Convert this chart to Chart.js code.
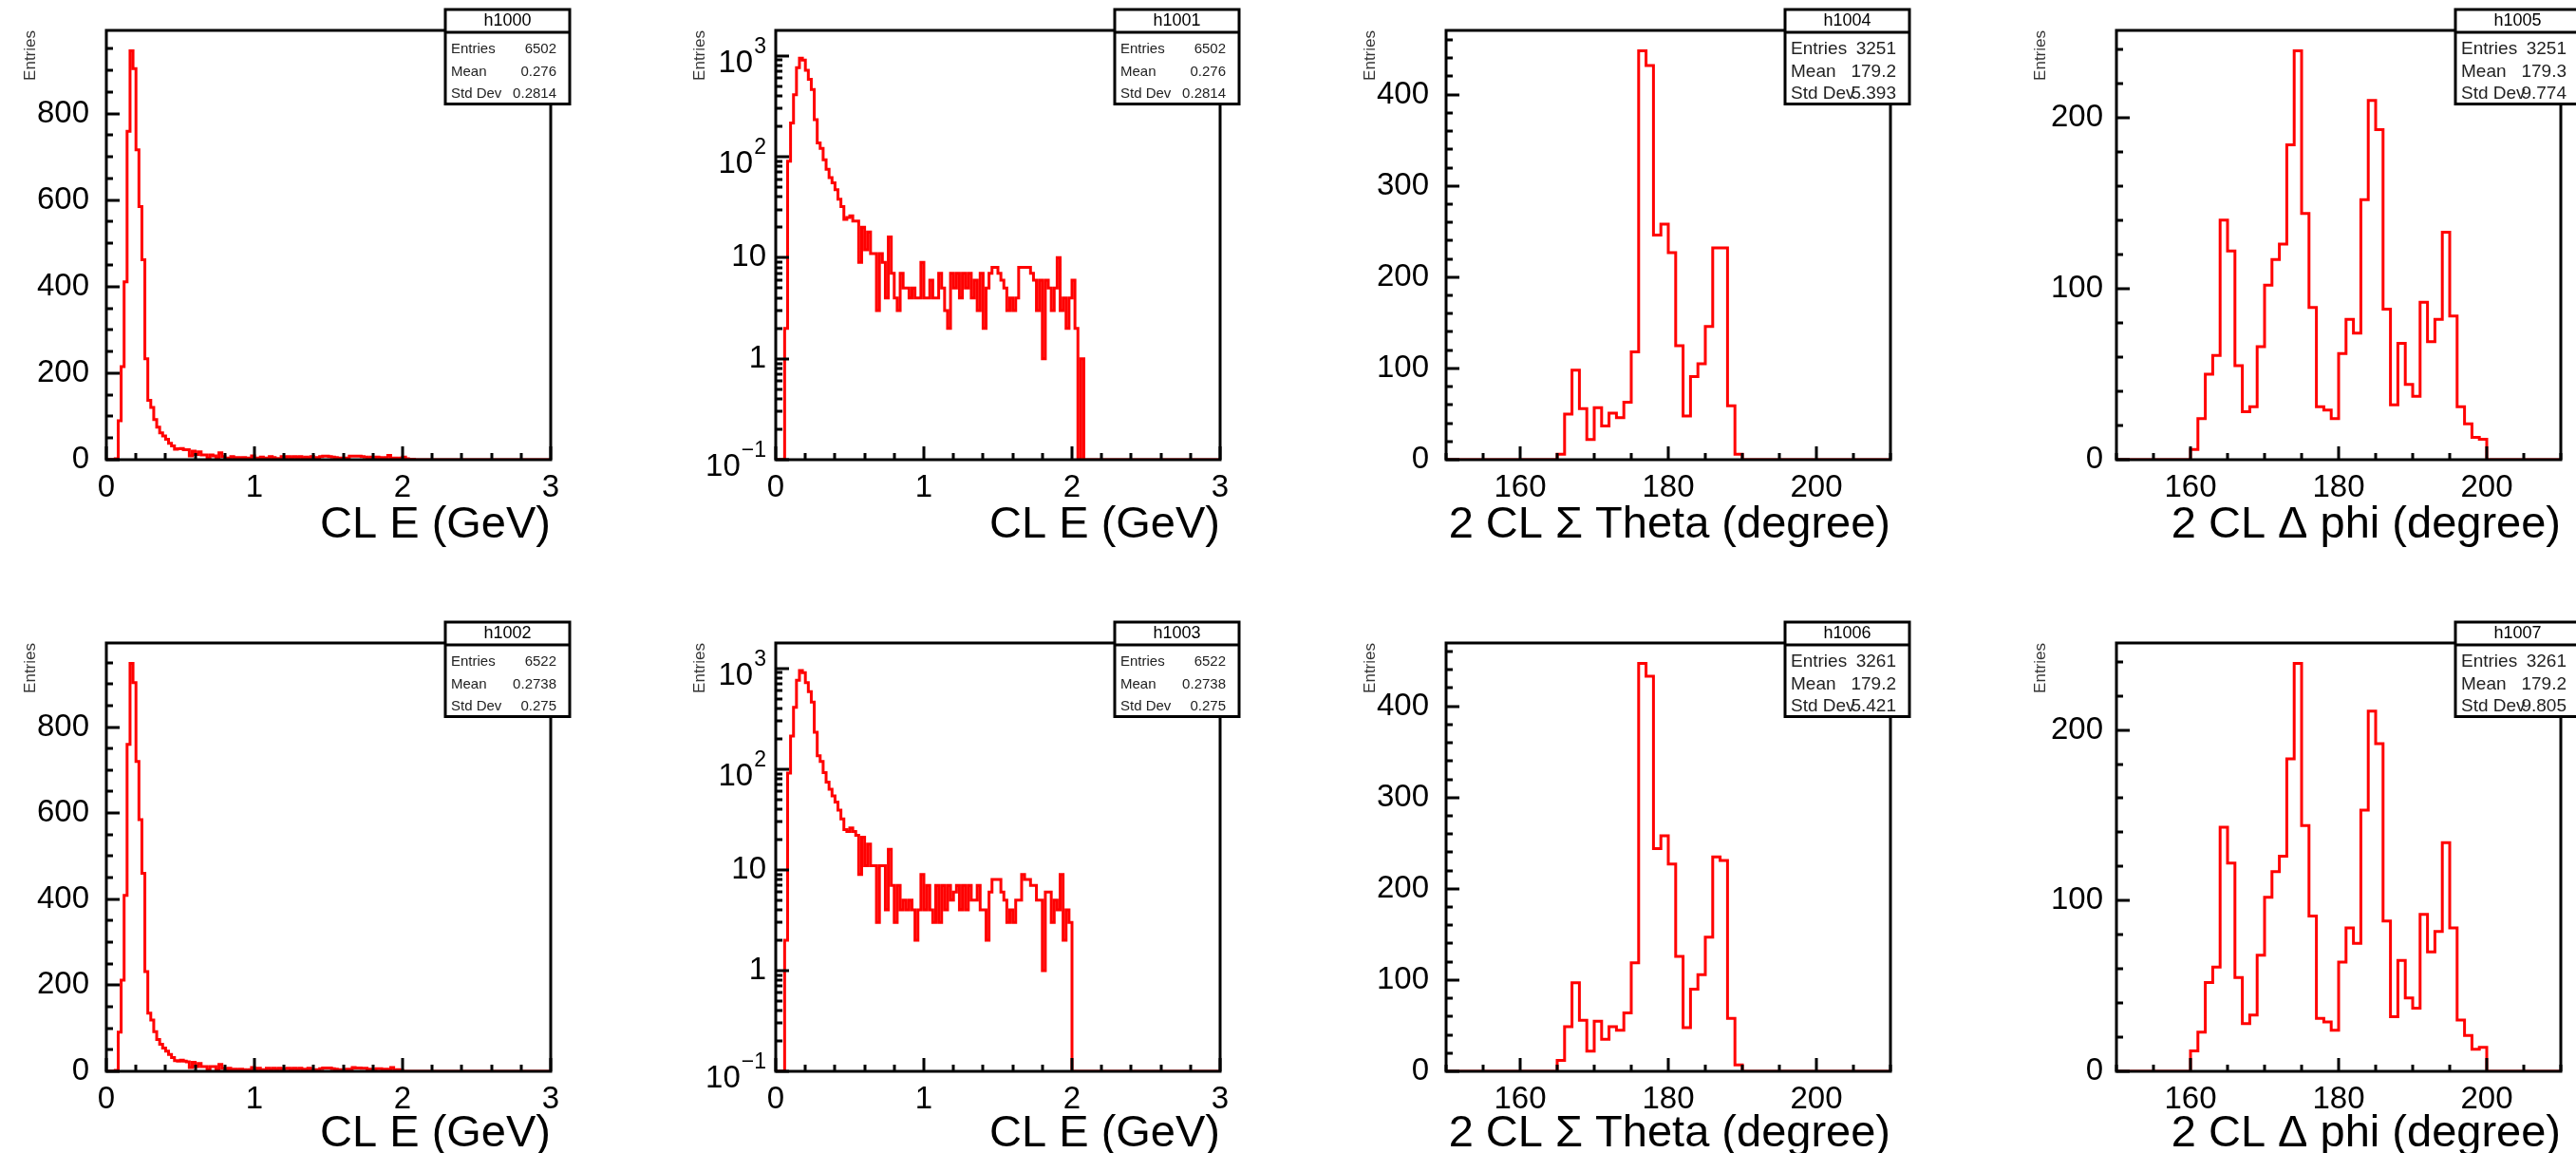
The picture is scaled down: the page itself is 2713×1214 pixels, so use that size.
<!DOCTYPE html>
<html>
<head>
<meta charset="utf-8">
<script src="https://cdn.jsdelivr.net/npm/chart.js@4.4.1/dist/chart.umd.min.js"></script>
<style>
  html, body { margin: 0; padding: 0; background: #fff; }
  body { width: 2713px; height: 1214px; position: relative; overflow: hidden; }
  canvas { position: absolute; }
</style>
</head>
<body>
<script>
Chart.defaults.font.family = '"Liberation Sans", Arial, Helvetica, sans-serif';
Chart.defaults.color = '#000';

// ---- bin contents ------------------------------------------------------

// cluster energy: 150 bins of 0.02 GeV on [0, 3]
var eLo = 0, eHi = 3;
var clEnergyA = [   // h1000 / h1001
  0, 0, 0, 2, 90, 215, 411, 759, 945, 904,
  716, 585, 462, 233, 137, 121, 93, 75, 62, 55,
  47, 38, 32, 24, 25, 26, 23, 23, 9, 20,
  12, 18, 11, 11, 3, 11, 9, 4, 16, 7,
  4, 3, 7, 5, 5, 4, 5, 4, 4, 9,
  4, 4, 6, 4, 4, 7, 5, 3, 2, 7,
  5, 7, 4, 7, 5, 7, 4, 6, 3, 7,
  2, 5, 7, 8, 8, 7, 6, 5, 3, 4,
  3, 4, 8, 8, 8, 8, 7, 6, 3, 6,
  1, 6, 5, 3, 5, 10, 3, 4, 2, 4,
  6, 2, 0, 1, 0, 0, 0, 0, 0, 0,
  0, 0, 0, 0, 0, 0, 0, 0, 0, 0,
  0, 0, 0, 0, 0, 0, 0, 0, 0, 0,
  0, 0, 0, 0, 0, 0, 0, 0, 0, 0,
  0, 0, 0, 0, 0, 0, 0, 0, 0, 0
];
var clEnergyB = [   // h1002 / h1003
  0, 0, 0, 2, 91, 212, 409, 760, 948, 903,
  720, 585, 460, 232, 135, 119, 92, 74, 63, 54,
  47, 39, 32, 25, 24, 26, 24, 22, 9, 21,
  11, 18, 11, 11, 3, 11, 11, 4, 16, 7,
  3, 7, 4, 5, 4, 5, 4, 2, 4, 9,
  4, 7, 4, 3, 7, 3, 7, 4, 7, 5,
  6, 7, 4, 7, 4, 7, 5, 5, 7, 4,
  4, 2, 6, 8, 8, 8, 6, 5, 3, 4,
  3, 5, 5, 9, 8, 8, 7, 7, 5, 5,
  1, 6, 6, 3, 5, 4, 9, 2, 4, 3,
  0, 0, 0, 0, 0, 0, 0, 0, 0, 0,
  0, 0, 0, 0, 0, 0, 0, 0, 0, 0,
  0, 0, 0, 0, 0, 0, 0, 0, 0, 0,
  0, 0, 0, 0, 0, 0, 0, 0, 0, 0,
  0, 0, 0, 0, 0, 0, 0, 0, 0, 0
];

// two-cluster angles: 60 bins of 1 degree on [150, 210]
var angLo = 150, angHi = 210;
var sumThetaA = [   // h1004
  0, 0, 0, 0, 0, 0, 0, 0, 0, 0,
  0, 0, 0, 0, 0, 6, 50, 98, 56, 22,
  57, 37, 51, 46, 63, 118, 448, 432, 246, 258,
  227, 125, 48, 91, 105, 146, 232, 232, 59, 6,
  0, 0, 0, 0, 0, 0, 0, 0, 0, 0,
  0, 0, 0, 0, 0, 0, 0, 0, 0, 0
];
var sumThetaB = [   // h1006
  0, 0, 0, 0, 0, 0, 0, 0, 0, 0,
  0, 0, 0, 0, 0, 12, 49, 97, 56, 22,
  55, 35, 49, 45, 64, 119, 447, 433, 244, 258,
  227, 126, 48, 90, 106, 147, 235, 231, 58, 7,
  0, 0, 0, 0, 0, 0, 0, 0, 0, 0,
  0, 0, 0, 0, 0, 0, 0, 0, 0, 0
];
var dPhiA = [       // h1005
  0, 0, 0, 0, 0, 0, 0, 0, 0, 0,
  6, 24, 50, 61, 140, 122, 55, 28, 31, 66,
  102, 117, 126, 184, 239, 144, 89, 31, 29, 24,
  62, 82, 74, 152, 210, 193, 88, 32, 68, 44,
  37, 92, 69, 82, 133, 84, 31, 21, 13, 12,
  0, 0, 0, 0, 0, 0, 0, 0, 0, 0
];
var dPhiB = [       // h1007
  0, 0, 0, 0, 0, 0, 0, 0, 0, 0,
  12, 23, 52, 61, 143, 122, 55, 28, 33, 68,
  102, 117, 126, 183, 239, 144, 91, 31, 29, 24,
  64, 84, 75, 153, 211, 192, 88, 32, 65, 43,
  37, 92, 70, 82, 134, 84, 30, 21, 13, 14,
  0, 0, 0, 0, 0, 0, 0, 0, 0, 0
];

// ---- axis labels -------------------------------------------------------
var eTicks = [0, 1, 2, 3];
var angTicks = [160, 180, 200];
var countTicksE = [0, 200, 400, 600, 800];
var countTicksTheta = [0, 100, 200, 300, 400];
var countTicksPhi = [0, 100, 200];
var logTicks = [0.1, 1, 10, 100, 1000];
var logMin = 0.1, logMax = 1780;

// ---- stats boxes -------------------------------------------------------
var statNames = ['Entries', 'Mean', 'Std Dev'];
var statsE_A = ['6502', '0.276', '0.2814'];
var statsE_B = ['6522', '0.2738', '0.275'];
var statsTheta_A = ['3251', '179.2', '5.393'];
var statsTheta_B = ['3261', '179.2', '5.421'];
var statsPhi_A = ['3251', '179.3', '9.774'];
var statsPhi_B = ['3261', '179.2', '9.805'];

var FONT = '"Liberation Sans", Arial, Helvetica, sans-serif';

// pad geometry: frame left edge per column; canvas top, paddings and
// x-axis band height per row
var frameLeft = [112, 817, 1523, 2229];
var rowTop = [0, 614];
var rowPadTop = [32, 63];
var rowPadBottom = [40, 13];
var rowAxisH = [96, 93];

var eAxis = { lo: eLo, hi: eHi, ticks: eTicks, minor: 0.2, title: 'CL E (GeV)' };
var thetaAxis = { lo: angLo, hi: angHi, ticks: angTicks, minor: 5, title: '2 CL \u03A3 Theta (degree)' };
var phiAxis = { lo: angLo, hi: angHi, ticks: angTicks, minor: 5, title: '2 CL \u0394 phi (degree)' };

var panels = [
  { name: 'h1000', row: 0, col: 0, bins: clEnergyA, ax: eAxis, log: false, yTicks: countTicksE, yMinor: 50, stats: statsE_A, small: true },
  { name: 'h1001', row: 0, col: 1, bins: clEnergyA, ax: eAxis, log: true, stats: statsE_A, small: true },
  { name: 'h1004', row: 0, col: 2, bins: sumThetaA, ax: thetaAxis, log: false, yTicks: countTicksTheta, yMinor: 20, stats: statsTheta_A },
  { name: 'h1005', row: 0, col: 3, bins: dPhiA, ax: phiAxis, log: false, yTicks: countTicksPhi, yMinor: 20, stats: statsPhi_A },
  { name: 'h1002', row: 1, col: 0, bins: clEnergyB, ax: eAxis, log: false, yTicks: countTicksE, yMinor: 50, stats: statsE_B, small: true },
  { name: 'h1003', row: 1, col: 1, bins: clEnergyB, ax: eAxis, log: true, stats: statsE_B, small: true },
  { name: 'h1006', row: 1, col: 2, bins: sumThetaB, ax: thetaAxis, log: false, yTicks: countTicksTheta, yMinor: 20, stats: statsTheta_B },
  { name: 'h1007', row: 1, col: 3, bins: dPhiB, ax: phiAxis, log: false, yTicks: countTicksPhi, yMinor: 20, stats: statsPhi_B }
];

// step outline through the left edge of every bin, closed at the upper edge
function outline(bins, lo, hi, floor) {
  var w = (hi - lo) / bins.length;
  var pts = bins.map(function (v, i) { return { x: lo + i * w, y: Math.max(v, floor) }; });
  pts.push({ x: hi, y: Math.max(bins[bins.length - 1], floor) });
  return pts;
}

function steps(lo, hi, step) {
  var out = [];
  for (var v = lo; v <= hi + 1e-9; v += step) out.push(+v.toFixed(6));
  return out;
}

function logMinors(max) {
  var out = [];
  for (var e = -1; e <= 3; e++)
    for (var k = 2; k <= 9; k++)
      if (k * Math.pow(10, e) <= max) out.push(k * Math.pow(10, e));
  return out;
}

// ROOT-like frame: inward ticks, box, stats panel, log labels
var rootFrame = {
  id: 'rootFrame',
  afterDraw: function (chart, args, o) {
    var ctx = chart.ctx, a = chart.chartArea, x = chart.scales.x, y = chart.scales.y;
    ctx.save();
    ctx.strokeStyle = '#000';
    ctx.lineWidth = 3;
    ctx.beginPath();
    o.xMinor.forEach(function (v) {
      var px = Math.round(x.getPixelForValue(v));
      ctx.moveTo(px, a.bottom); ctx.lineTo(px, a.bottom - 7);
    });
    o.xMajor.forEach(function (v) {
      var px = Math.round(x.getPixelForValue(v));
      ctx.moveTo(px, a.bottom); ctx.lineTo(px, a.bottom - 14);
    });
    o.yMinor.forEach(function (v) {
      var py = Math.round(y.getPixelForValue(v));
      ctx.moveTo(a.left, py); ctx.lineTo(a.left + 7, py);
    });
    o.yMajor.forEach(function (v) {
      var py = Math.round(y.getPixelForValue(v));
      ctx.moveTo(a.left, py); ctx.lineTo(a.left + 14, py);
    });
    ctx.stroke();
    ctx.strokeRect(a.left, a.top, a.right - a.left, a.bottom - a.top);

    // decade labels with raised exponents
    if (o.log) {
      ctx.fillStyle = '#000';
      ctx.textAlign = 'right';
      ctx.textBaseline = 'middle';
      var xr = a.left - 10;
      logTicks.forEach(function (v) {
        var py = y.getPixelForValue(v);
        var e = Math.round(Math.log10(v));
        if (e === 0 || e === 1) {
          ctx.font = '33px ' + FONT;
          ctx.fillText(String(v), xr, py);
        } else {
          var sup = e < 0 ? '\u2212' + (-e) : String(e);
          ctx.font = '23px ' + FONT;
          var w = ctx.measureText(sup).width;
          ctx.fillText(sup, xr, py - 9);
          ctx.font = '33px ' + FONT;
          ctx.fillText('10', xr - w - 1, py + 8);
        }
      });
    }

    // statistics box
    var bx0 = a.right - 111, bx1 = a.right + 20;
    var by0 = a.top - 22, by1 = a.top + 77.5;
    ctx.fillStyle = '#fff';
    ctx.fillRect(bx0, by0, bx1 - bx0, by1 - by0);
    ctx.lineWidth = 3;
    ctx.strokeRect(bx0, by0, bx1 - bx0, by1 - by0);
    ctx.beginPath();
    ctx.moveTo(bx0, a.top + 2); ctx.lineTo(bx1, a.top + 2);
    ctx.stroke();
    ctx.fillStyle = '#000';
    ctx.textBaseline = 'middle';
    ctx.textAlign = 'center';
    ctx.font = '18px ' + FONT;
    ctx.fillText(o.name, (bx0 + bx1) / 2, a.top - 10);
    ctx.fillStyle = '#222';
    ctx.font = (o.small ? 15 : 19) + 'px ' + FONT;
    var rows = [20, 43.5, 67];
    statNames.forEach(function (n, i) {
      ctx.textAlign = 'left';
      ctx.fillText(n, a.right - 105, a.top + rows[i]);
      ctx.textAlign = 'right';
      ctx.fillText(o.values[i], a.right + 6, a.top + rows[i]);
    });
    ctx.restore();
  }
};

panels.forEach(function (p) {
  var cv = document.createElement('canvas');
  cv.width = 610;
  cv.height = 620;
  cv.style.left = (frameLeft[p.col] - 112) + 'px';
  cv.style.top = rowTop[p.row] + 'px';
  document.body.appendChild(cv);

  var ymax = p.log ? logMax : Math.max.apply(null, p.bins) * 1.05;
  var yMajor = p.log ? logTicks : p.yTicks;
  var yMinor = p.log ? logMinors(logMax) : steps(0, ymax, p.yMinor);
  var axisH = rowAxisH[p.row];

  new Chart(cv, {
    type: 'line',
    data: {
      datasets: [{
        data: outline(p.bins, p.ax.lo, p.ax.hi, p.log ? logMin : 0),
        stepped: true,
        borderColor: '#ff0000',
        borderWidth: 3,
        pointRadius: 0,
        fill: false
      }]
    },
    options: {
      responsive: false,
      animation: false,
      devicePixelRatio: 1,
      layout: { padding: { left: 12, right: 30, top: rowPadTop[p.row], bottom: rowPadBottom[p.row] } },
      plugins: {
        legend: { display: false },
        tooltip: { enabled: false },
        rootFrame: {
          name: p.name, values: p.stats, small: !!p.small, log: p.log,
          xMajor: p.ax.ticks, xMinor: steps(p.ax.lo, p.ax.hi, p.ax.minor),
          yMajor: yMajor, yMinor: yMinor
        }
      },
      scales: {
        x: {
          type: 'linear',
          bounds: 'data',
          min: p.ax.lo,
          max: p.ax.hi,
          grid: { display: false },
          border: { display: false },
          afterBuildTicks: function (s) { s.ticks = p.ax.ticks.map(function (v) { return { value: v }; }); },
          afterFit: function (s) { s.height = axisH; },
          ticks: { font: { size: 33 }, padding: 2, maxRotation: 0, autoSkip: false },
          title: {
            display: true, text: p.ax.title, align: 'end',
            font: { size: 47, lineHeight: 1 }, padding: { top: 0, bottom: 3 }
          }
        },
        y: {
          type: p.log ? 'logarithmic' : 'linear',
          bounds: 'data',
          min: p.log ? logMin : 0,
          max: ymax,
          grid: { display: false },
          border: { display: false },
          afterBuildTicks: function (s) { s.ticks = yMajor.map(function (v) { return { value: v }; }); },
          afterFit: function (s) { s.width = 100; },
          ticks: {
            font: { size: 33 },
            padding: p.col === 3 ? 6 : 10,
            callback: p.log ? function () { return ''; } : undefined
          },
          title: {
            display: true, text: 'Entries', align: 'end', color: '#333',
            font: { size: 17, lineHeight: 1 }, padding: { top: 11.5, bottom: 0 }
          }
        }
      }
    },
    plugins: [rootFrame]
  });
});
</script>
</body>
</html>
